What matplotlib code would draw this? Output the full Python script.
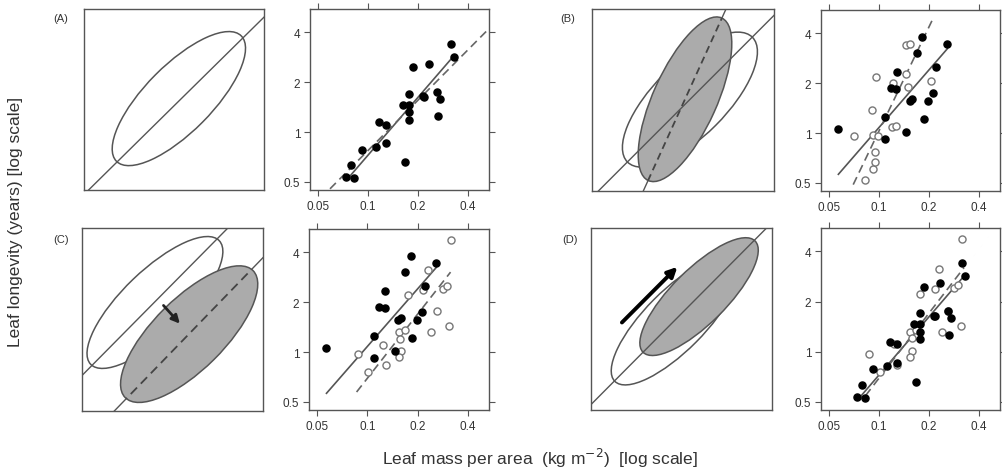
import numpy as np
import matplotlib.pyplot as plt
from matplotlib.patches import Ellipse

plt.rcParams["font.family"] = ["Liberation Sans", "DejaVu Sans"]

W, H = 1002, 477

# scatter data: leaf mass per area (kg m-2), leaf longevity (years)
lma_a = [0.0737, 0.0792, 0.0824, 0.0916, 0.1115, 0.117, 0.128, 0.128, 0.1665, 0.162, 0.177, 0.177,
         0.177, 0.177, 0.186, 0.2155, 0.218, 0.233, 0.26, 0.272, 0.265, 0.316, 0.331]
ll_a = [0.535, 0.629, 0.530, 0.784, 0.817, 1.145, 1.105, 0.855, 0.655, 1.457, 1.457, 1.313,
        1.185, 1.705, 2.455, 1.64, 1.63, 2.575, 1.75, 1.59, 1.255, 3.40, 2.83]

lma_b = [0.0565, 0.109, 0.109, 0.118, 0.1275, 0.1285, 0.146, 0.153, 0.159, 0.169, 0.182, 0.186,
         0.1985, 0.2125, 0.2205, 0.256]
ll_b = [1.06, 1.245, 0.92, 1.865, 1.85, 2.33, 1.01, 1.555, 1.61, 3.02, 3.785, 1.22,
        1.55, 1.755, 2.485, 3.45]

lma_b_open = [0.0707, 0.0824, 0.0903, 0.0921, 0.0941, 0.0941, 0.092, 0.0986, 0.0955, 0.12, 0.126,
              0.121, 0.1447, 0.146, 0.154, 0.1495, 0.2066]
ll_b_open = [0.964, 0.519, 1.38, 0.609, 0.668, 0.773, 0.973, 0.964, 2.18, 1.08, 1.10,
             1.99, 2.28, 3.40, 3.44, 1.90, 2.06]

lma_cd_open = [0.0875, 0.1014, 0.124, 0.129, 0.154, 0.159, 0.154, 0.157, 0.168, 0.176, 0.216,
               0.23, 0.24, 0.26, 0.283, 0.30, 0.31, 0.315]
ll_cd_open = [0.968, 0.758, 1.107, 0.831, 1.32, 1.01, 0.933, 1.20, 1.35, 2.22, 2.37,
              3.13, 1.32, 1.76, 2.41, 2.5, 1.43, 4.77]

# fitted lines: log10(y) = a + b*log10(x), drawn between x0 and x1
fit_a = [1.02, 1.16, 0.077, 0.33]
fit_b = [1.188, 1.155, 0.057, 0.258]
dash_a = [0.898, 1.01, 0.04, 0.6]
dash_b = [2.098, 2.086, 0.070, 0.2095]
dash_c = [1.127, 1.286, 0.0863, 0.315]
dash_d = [1.137, 1.296, 0.083, 0.325]

xticks = [0.05, 0.1, 0.2, 0.4]
yticks = [0.5, 1, 2, 4]

# schematic panels (unit box): ellipse = centre x, centre y, length, width, angle
# line = slope, intercept
sch_a_line = [0.98, -0.025]
sch_a_ell = [0.527, 0.505, 0.98, 0.37, 45]
sch_b_line = [1.0, -0.035]
sch_b_ell = [0.538, 0.502, 0.97, 0.40, 45]
sch_b_line2 = [2.2, -0.62]
sch_b_ell2 = [0.511, 0.504, 0.98, 0.35, 65.7]
sch_c_line = [1.0, 0.194]
sch_c_ell = [0.403, 0.593, 0.98, 0.35, 43.5]
sch_c_line2 = [1.02, -0.182]
sch_c_ell2 = [0.592, 0.42, 0.99, 0.39, 44.4]
sch_c_arrow = [0.44, 0.588, 0.551, 0.466]
sch_d_line = [1.0, 0.03]
sch_d_ell = [0.464, 0.49, 0.94, 0.33, 45]
sch_d_ell2 = [0.597, 0.623, 0.87, 0.30, 44.6]
sch_d_arrow = [0.16, 0.47, 0.488, 0.797]

EDGE = "#555555"
TXT = "#333333"
GREY = "#ababab"


def rect(x0, y0, x1, y1):
    return [x0 / W, 1 - y1 / H, (x1 - x0) / W, (y1 - y0) / H]


def fit_line(ax, p, **kw):
    xs = np.geomspace(p[2], p[3], 50)
    ax.plot(xs, 10 ** (p[0] + p[1] * np.log10(xs)), **kw)


def scatter_panel(ax, filled, opened=None, solid=None, dashed=None):
    ax.set_xscale("log")
    ax.set_yscale("log")
    if opened is not None:
        ax.scatter(opened[0], opened[1], s=26, facecolor="white", edgecolor="#777777",
                   linewidth=1.0, zorder=3)
    ax.scatter(filled[0], filled[1], s=26, color="black", zorder=4)
    if solid is not None:
        fit_line(ax, solid, color=EDGE, lw=1.2, zorder=2)
    if dashed is not None:
        fit_line(ax, dashed, color="#666666", lw=1.2, ls=(0, (5, 3)), zorder=2)
    ax.set_xlim(0.0448, 0.535)
    ax.set_ylim(0.447, 5.52)
    ax.set_xticks(xticks)
    ax.set_xticklabels([str(v) for v in xticks])
    ax.set_yticks(yticks)
    ax.set_yticklabels([str(v) for v in yticks])
    ax.minorticks_off()
    ax.tick_params(direction="out", top=True, right=True, length=4, width=0.8,
                   color=EDGE, labelcolor=TXT, labelsize=8.5, pad=3)
    for s in ax.spines.values():
        s.set_color(EDGE)
        s.set_linewidth(1.0)


def sch_setup(ax):
    ax.set_xlim(0, 1)
    ax.set_ylim(0, 1)
    ax.set_xticks([])
    ax.set_yticks([])
    for s in ax.spines.values():
        s.set_color(EDGE)
        s.set_linewidth(1.0)


def sch_plot_line(ax, ln, **kw):
    u = np.array([-0.2, 1.2])
    return ax.plot(u, ln[0] * u + ln[1], **kw)[0]


def ell(e, **kw):
    return Ellipse((e[0], e[1]), e[2], e[3], angle=e[4], **kw)


fig = plt.figure(figsize=(W / 100, H / 100), dpi=100)

# (A)
ax = fig.add_axes(rect(84, 10, 264, 191))
sch_setup(ax)
ax.add_patch(ell(sch_a_ell, facecolor="none", edgecolor=EDGE, lw=1.1))
sch_plot_line(ax, sch_a_line, color=EDGE, lw=1.0)
ax = fig.add_axes(rect(310, 10, 489, 191))
scatter_panel(ax, (lma_a, ll_a), solid=fit_a, dashed=dash_a)

# (B)
ax = fig.add_axes(rect(592, 10, 774, 192))
sch_setup(ax)
ax.add_patch(ell(sch_b_ell, facecolor="none", edgecolor=EDGE, lw=1.1, zorder=1))
sch_plot_line(ax, sch_b_line2, color=EDGE, lw=1.0, zorder=1.5)
g = ell(sch_b_ell2, facecolor=GREY, edgecolor=EDGE, lw=1.1, zorder=2)
ax.add_patch(g)
d = sch_plot_line(ax, sch_b_line2, color="#444444", lw=1.3, ls=(0, (4, 2.5)), zorder=3)
d.set_clip_path(g)
sch_plot_line(ax, sch_b_line, color=EDGE, lw=1.0, zorder=3)
ax = fig.add_axes(rect(821, 11, 1000, 192))
scatter_panel(ax, (lma_b, ll_b), opened=(lma_b_open, ll_b_open), solid=fit_b, dashed=dash_b)

# (C)
ax = fig.add_axes(rect(82, 229, 263, 412))
sch_setup(ax)
ax.add_patch(ell(sch_c_ell, facecolor="none", edgecolor=EDGE, lw=1.1, zorder=1))
sch_plot_line(ax, sch_c_line2, color=EDGE, lw=1.0, zorder=1.5)
g = ell(sch_c_ell2, facecolor=GREY, edgecolor=EDGE, lw=1.1, zorder=2)
ax.add_patch(g)
d = sch_plot_line(ax, sch_c_line2, color="#444444", lw=1.3, ls=(0, (5, 3)), zorder=3)
d.set_clip_path(g)
sch_plot_line(ax, sch_c_line, color=EDGE, lw=1.0, zorder=3)
ax.annotate("", xy=sch_c_arrow[2:], xytext=sch_c_arrow[:2],
            arrowprops=dict(arrowstyle="-|>", color="#222222", lw=2, mutation_scale=12), zorder=5)
ax = fig.add_axes(rect(309, 230, 489, 411))
scatter_panel(ax, (lma_b, ll_b), opened=(lma_cd_open, ll_cd_open), solid=fit_b, dashed=dash_c)

# (D)
ax = fig.add_axes(rect(591, 229, 772, 411))
sch_setup(ax)
ax.add_patch(ell(sch_d_ell, facecolor="none", edgecolor=EDGE, lw=1.1, zorder=1))
ax.add_patch(ell(sch_d_ell2, facecolor=GREY, edgecolor=EDGE, lw=1.1, zorder=2))
sch_plot_line(ax, sch_d_line, color=EDGE, lw=1.0, zorder=3)
ax.annotate("", xy=sch_d_arrow[2:], xytext=sch_d_arrow[:2],
            arrowprops=dict(arrowstyle="-|>", color="black", lw=2.8, mutation_scale=14), zorder=5)
ax = fig.add_axes(rect(821, 229, 1000, 411))
scatter_panel(ax, (lma_a, ll_a), opened=(lma_cd_open, ll_cd_open), solid=fit_a, dashed=dash_d)

# panel letters and axis titles
for lab, x, y in [("(A)", 61, 19), ("(B)", 568, 19), ("(C)", 61, 240), ("(D)", 570, 240)]:
    fig.text(x / W, 1 - y / H, lab, fontsize=8, color=TXT, ha="center", va="center")

fig.text(16 / W, 1 - 222 / H, "Leaf longevity (years) [log scale]", rotation=90,
         fontsize=12.5, color=TXT, ha="center", va="center")
fig.text(540 / W, 1 - 458 / H, "Leaf mass per area  (kg m$^{-2}$)  [log scale]",
         fontsize=12.5, color=TXT, ha="center", va="center")

fig.savefig("out.png", dpi=100)
